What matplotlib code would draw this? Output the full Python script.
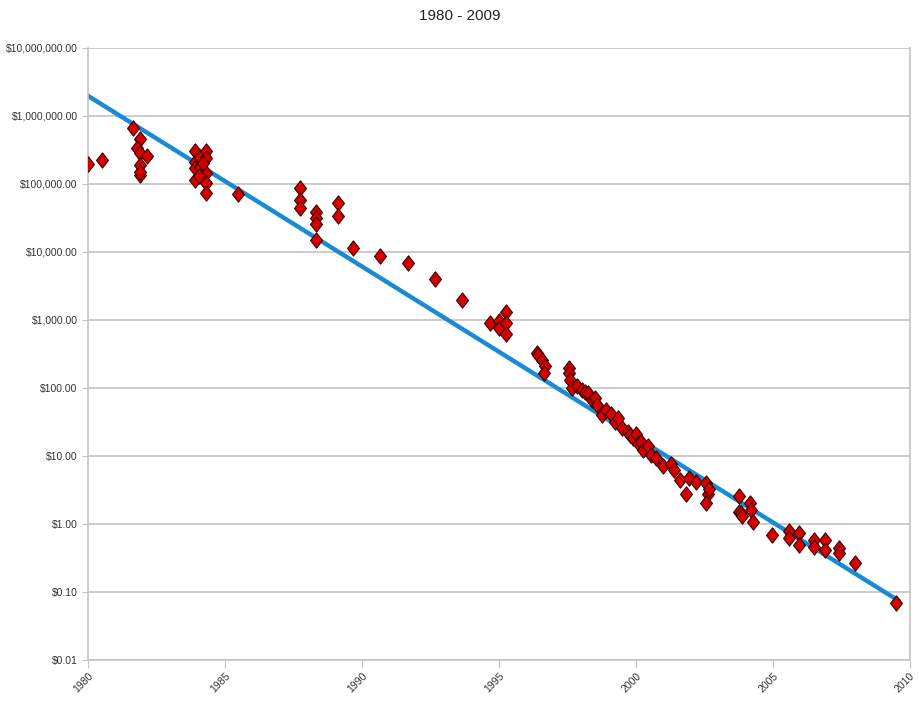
import matplotlib.pyplot as plt
import matplotlib.ticker as mticker
import numpy as np

# Cost per unit over time (log scale)
years = [
    1980.0, 1980.5,
    1981.64, 1981.9, 1981.8, 1981.9, 1982.15, 1981.9, 1981.9, 1981.9,
    1983.9, 1983.9, 1983.9, 1983.9, 1984.1, 1984.1, 1984.15, 1984.3, 1984.3,
    1984.3, 1984.3, 1984.3, 1984.2, 1984.05,
    1985.48,
    1987.74, 1987.74, 1987.74, 1988.33, 1988.33, 1988.33, 1988.33,
    1989.14, 1989.14, 1989.66, 1990.67, 1991.68, 1992.67, 1993.67,
    1994.68, 1995.0, 1995.0, 1995.25, 1995.25, 1995.25,
    1996.4, 1996.43, 1996.58, 1996.7, 1996.66,
    1997.57, 1997.57, 1997.6, 1997.66, 1997.85, 1998.03, 1998.15, 1998.27,
    1998.39, 1998.5, 1998.57, 1998.75, 1998.9, 1999.1, 1999.24, 1999.35,
    1999.48, 1999.72, 1999.8, 1999.9, 2000.0, 2000.08, 2000.2, 2000.26,
    2000.45, 2000.57, 2000.75, 2000.99, 2001.29, 2001.41, 2001.6, 2001.83,
    2001.96, 2002.2, 2002.56, 2002.62, 2002.56, 2002.66,
    2003.77, 2003.77, 2003.83, 2003.87, 2004.17, 2004.2, 2004.28,
    2004.96, 2005.58, 2005.58, 2005.95, 2005.95, 2006.49, 2006.5,
    2006.91, 2006.91, 2007.42, 2007.42, 2008.0, 2009.51,
]
prices = [
    195000, 224000,
    675000, 460000, 335000, 288000, 260000, 190000, 135000, 150000,
    300000, 213000, 170000, 115000, 250000, 180000, 140000, 300000, 240000,
    145000, 102000, 74000, 200000, 130000,
    71000,
    87000, 58000, 44000, 39000, 31600, 26000, 15000,
    53000, 34000, 11400, 8800, 6800, 3960, 1950,
    910, 980, 760, 1290, 890, 630,
    325, 305, 258, 210, 165,
    196, 165, 131, 100, 105, 93, 88, 83,
    66, 70, 56, 40, 48, 42, 32, 36,
    25.5, 22.8, 20, 18.3, 21, 15.4, 16, 12.3,
    13.8, 10.2, 9.3, 7.0, 7.7, 6.2, 4.45, 2.8,
    4.7, 4.2, 3.95, 2.8, 2.0, 3.3,
    2.6, 1.5, 1.45, 1.3, 2.05, 1.6, 1.07,
    0.69, 0.78, 0.62, 0.73, 0.49, 0.58, 0.46,
    0.58, 0.42, 0.44, 0.38, 0.27, 0.069,
]

# Exponential trend line end points
trend_years = [1980.0, 2009.56]
trend_prices = [1.97e6, 0.076]

plt.rcParams['font.family'] = ['Liberation Sans', 'DejaVu Sans']

fig = plt.figure(figsize=(9.19, 7.15), dpi=100)
ax = fig.add_axes([0.0958, 0.077, 0.894, 0.856])

# slightly tall diamond, like the spreadsheet marker
diamond = [(-0.78, 0), (0, 1), (0.78, 0), (0, -1), (-0.78, 0)]

ax.plot(trend_years, trend_prices, color='#1a8ad4', linewidth=3.2, zorder=2)
ax.plot(years, prices, linestyle='none', marker=diamond, markersize=11,
        markerfacecolor='#d40000', markeredgecolor='#3a0000',
        markeredgewidth=0.8, zorder=3)

ax.set_yscale('log')
ax.set_ylim(0.01, 1e7)
ax.set_xlim(1980, 2010)

ax.yaxis.set_major_locator(mticker.LogLocator(base=10, numticks=20))
ax.yaxis.set_minor_locator(mticker.NullLocator())
ax.yaxis.set_major_formatter(mticker.FuncFormatter(lambda v, p: f"${v:,.2f}"))
ax.set_xticks(range(1980, 2011, 5))

ax.grid(axis='y', color='#c4c4c4', linewidth=1.2)
ax.set_axisbelow(True)
for side in ['left', 'right', 'bottom']:
    ax.spines[side].set_color('#c4c4c4')
    ax.spines[side].set_linewidth(1.2)
ax.spines['top'].set_visible(False)

ax.tick_params(axis='y', labelsize=7.5, colors='#c4c4c4', labelcolor='#333333', length=4)
ax.tick_params(axis='x', labelsize=7.5, colors='#c4c4c4', labelcolor='#333333',
               length=6, pad=2, labelrotation=45)
for lbl in ax.get_xticklabels():
    lbl.set_ha('right')
    lbl.set_rotation_mode('anchor')

fig.text(0.5, 0.978, "1980 - 2009", ha='center', va='center', fontsize=11, color='#222222')

fig.savefig('out.png', dpi=100)
